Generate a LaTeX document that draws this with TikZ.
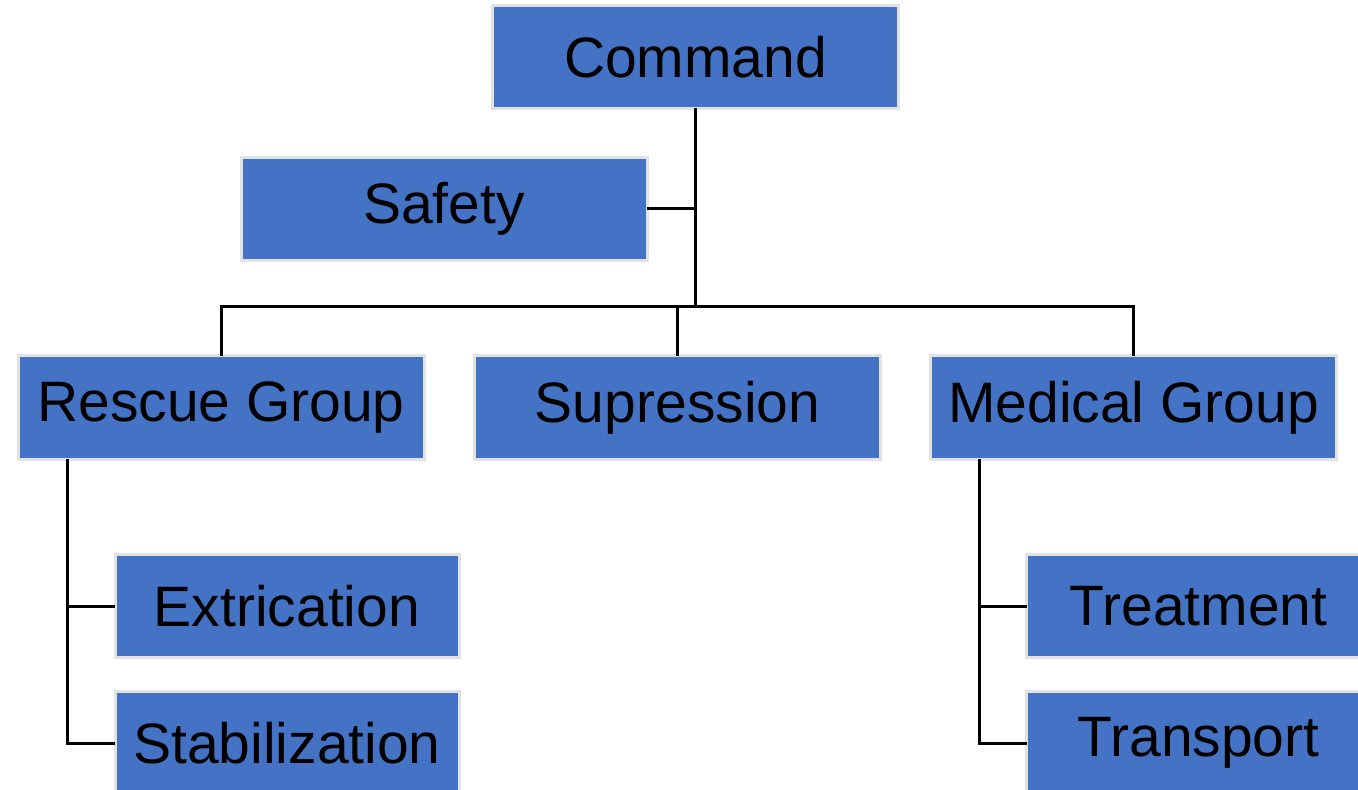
\documentclass[tikz,border=0pt]{standalone}
\usepackage{fontspec}
\setmainfont{Liberation Sans}
\usepackage{tikz}

\definecolor{boxblue}{RGB}{68,114,196}
\definecolor{boxrim}{RGB}{226,226,226}
\tikzset{
  orgbox/.style={draw=boxrim, line width=1.5pt, fill=boxblue, minimum width=203pt,
    minimum height=51.5pt, inner sep=0pt, font=\fontsize{28.5}{34}\selectfont},
  subbox/.style={orgbox, minimum width=172pt},
  link/.style={line width=1.5pt, line cap=rect}
}

\begin{document}
\begin{tikzpicture}[x=0.5pt,y=-0.5pt]
				\useasboundingbox (0,0) rectangle (1358,790);
				\node[orgbox] (cmd) at (695.5,57) {Command};
				\node[orgbox] (safe) at (444,209) {Safety};
				\node[orgbox] (resc) at (221,407.5) {Rescue Group};
				\node[orgbox] (supp) at (677.5,407.5) {Supression};
				\node[orgbox] (med) at (1133.5,407.5) {Medical Group};
				\node[subbox] (extr) at (287,606) {Extrication};
				\node[subbox] (stab) at (287,743) {Stabilization};
				\node[subbox] (treat) at (1198.5,606) {Treatment};
				\node[subbox] (trans) at (1198.5,743) {Transport};
				\coordinate (hub) at (695,307);
				\draw[link] (cmd.south -| hub) -- (hub);
				\draw[link] (safe.east) -- (safe.east -| hub);
				\draw[link] (resc.north) |- (hub) -| (med.north);
				\draw[link] (supp.north) -- (supp.north |- hub);
				\draw[link] (resc.south -| 67,0) |- (stab.west);
				\draw[link] (extr.west) -- (extr.west -| 67,0);
				\draw[link] (med.south -| 979,0) |- (trans.west);
				\draw[link] (treat.west) -- (treat.west -| 979,0);
			\end{tikzpicture}
\end{document}
